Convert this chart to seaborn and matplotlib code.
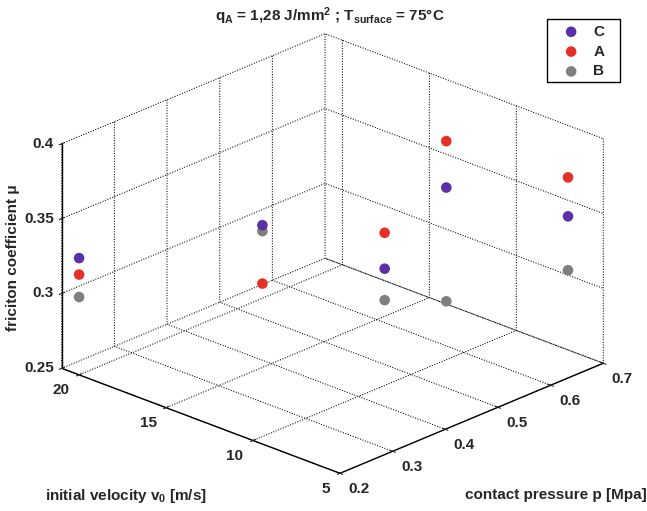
import numpy as np
import pandas as pd
import matplotlib
matplotlib.use("Agg")
import matplotlib.pyplot as plt
import matplotlib.patches as mpatches
import seaborn as sns
from mpl_toolkits.mplot3d import proj3d

# ---------------- data ----------------
series = ["C", "A", "B"]
pressure = [0.20, 0.383, 0.45, 0.567, 0.633]      # contact pressure p [MPa]
velocity = [20, 15, 10, 10, 5]                     # initial velocity v0 [m/s]
mu_C = [0.328, 0.345, 0.328, 0.365, 0.358]
mu_A = [0.317, 0.306, 0.352, 0.396, 0.384]
mu_B = [0.302, 0.341, 0.307, 0.289, 0.322]
colors = ["#5b2fa6", "#e53027", "#7f7f7f"]
p_ticks = [0.2, 0.3, 0.4, 0.5, 0.6, 0.7]
v_ticks = [5, 10, 15, 20]
mu_ticks = [0.25, 0.3, 0.35, 0.4]

df = pd.DataFrame({
    "series": np.repeat(series, len(pressure)),
    "p": pressure * 3,
    "v": velocity * 3,
    "mu": mu_C + mu_A + mu_B,
})

sns.set_style("white")
plt.rcParams["font.family"] = ["Liberation Sans", "DejaVu Sans"]
plt.rcParams["font.weight"] = "bold"
plt.rcParams["mathtext.fontset"] = "custom"
plt.rcParams["mathtext.rm"] = "Liberation Sans:bold"
plt.rcParams["mathtext.it"] = "Liberation Sans:bold"
plt.rcParams["mathtext.bf"] = "Liberation Sans:bold"

palette = dict(zip(series, sns.color_palette(colors)))
FS = 11

W, H = 647, 511
fig = plt.figure(figsize=(W / 100, H / 100), dpi=100)
ax = fig.add_axes([0.1, 0.1, 0.8, 0.8], projection="3d")
ax.set_proj_type("ortho")
ax.view_init(elev=23.4, azim=-136.46)
ax.set_box_aspect((1, 1.004, 0.64))
ax.set_xlim(0.2, 0.7)
ax.set_ylim(5, 21)
ax.set_zlim(0.25, 0.4)
ax.set_xticks(p_ticks)
ax.set_yticks(v_ticks)
ax.set_zticks(mu_ticks)
ax.set_xticklabels([""] * len(p_ticks))
ax.set_yticklabels([""] * len(v_ticks))
ax.set_zticklabels([""] * len(mu_ticks))

for axis in (ax.xaxis, ax.yaxis, ax.zaxis):
    axis.set_pane_color((1, 1, 1, 1))
    axis.pane.set_edgecolor("white")
    axis.line.set_color("black")
    axis.line.set_linewidth(1.0)
    axis._axinfo["grid"].update({"color": "black", "linewidth": 0.75,
                                 "linestyle": (0, (1, 1.5))})
    axis._axinfo["tick"]["inward_factor"] = 0.12
    axis._axinfo["tick"]["outward_factor"] = 0.12
    axis._axinfo["tick"]["linewidth"] = {True: 0.8, False: 0.5}
    axis._axinfo["tick"]["color"] = "black"

handles = []
for s in series:
    d = df[df["series"] == s]
    h = ax.scatter(d["p"], d["v"], d["mu"], color=palette[s], s=58,
                   depthshade=False, edgecolors="none", label=s)
    handles.append(h)

# ---- layout calibration: place the 3D box where the reference has it ----
fig.canvas.draw()
def disp(x, y, z):
    xs, ys, _ = proj3d.proj_transform(x, y, z, ax.get_proj())
    return np.array(ax.transData.transform((xs, ys)))

L = disp(0.2, 21, 0.25)
R = disp(0.7, 5, 0.25)
tL = np.array([61.7, H - 368.3])
tR = np.array([603.3, H - 363.3])
k = (tR[0] - tL[0]) / (R[0] - L[0])
bb = ax.get_position()
S = bb.width * W
c = np.array([(bb.x0 + bb.width / 2) * W, (bb.y0 + bb.height / 2) * H])
S2 = S * k
c2 = tL - k * (L - c)
ax.set_position([(c2[0] - S2 / 2) / W, (c2[1] - S2 / 2) / H, S2 / W, S2 / H])
fig.canvas.draw()

# ---- tick labels (MATLAB style placement) ----
for t in mu_ticks:
    x, y = disp(0.2, 21, t)
    fig.text((x - 8) / W, y / H, f"{t:g}", ha="right", va="center",
             fontsize=FS, fontweight="bold")
for t in v_ticks:
    x, y = disp(0.2, t, 0.25)
    fig.text((x - 9.5) / W, (y - 15.3) / H, f"{t:g}", ha="right", va="center",
             fontsize=FS, fontweight="bold")
for t in p_ticks:
    x, y = disp(t, 5, 0.25)
    fig.text((x + 19) / W, (y - 15.3) / H, f"{t:g}", ha="center", va="center",
             fontsize=FS, fontweight="bold")

# ---- legend ----
fig.patches.append(mpatches.Rectangle((547 / W, 1 - 82 / H), 73 / W, 63 / H,
                                      transform=fig.transFigure, fill=True,
                                      facecolor="white", edgecolor="black",
                                      linewidth=1.0, zorder=5))
leg = fig.legend(handles, series, loc="upper left",
                 bbox_to_anchor=(563.5 / W, 1 - 24.8 / H), frameon=False,
                 borderaxespad=0, borderpad=0, fontsize=FS,
                 handlelength=1.0, handletextpad=0.95, labelspacing=0.38)
leg.set_zorder(6)

fig.text(330 / W, 1 - 16 / H,
         r"q$_\mathregular{A}$ = 1,28 J/mm$^\mathregular{2}$ ; T$_\mathregular{surface}$ = 75°C",
         ha="center", va="center", fontsize=FS, fontweight="bold")
fig.text(13 / W, 1 - 258 / H, "friciton coefficient μ", rotation=90,
         ha="center", va="center", fontsize=FS, fontweight="bold")
fig.text(126 / W, 1 - 496 / H, r"initial velocity v$_\mathregular{0}$ [m/s]",
         ha="center", va="center", fontsize=FS, fontweight="bold")
fig.text(556 / W, 1 - 495 / H, "contact pressure p [Mpa]",
         ha="center", va="center", fontsize=FS, fontweight="bold")

fig.savefig("out.png", dpi=100)
